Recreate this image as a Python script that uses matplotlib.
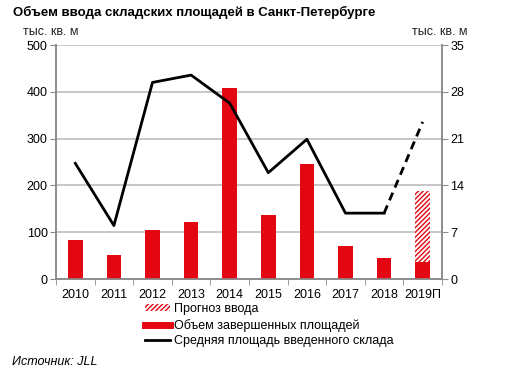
import matplotlib
matplotlib.use("Agg")
import matplotlib.pyplot as plt
from matplotlib.patches import Patch
from matplotlib.lines import Line2D
import numpy as np

plt.rcParams['font.family'] = ['Liberation Sans', 'DejaVu Sans']
plt.rcParams['hatch.linewidth'] = 1.0

years = ['2010', '2011', '2012', '2013', '2014', '2015', '2016', '2017', '2018', '2019П']
completed = [83, 51, 104, 121, 408, 137, 246, 71, 44, 37]
forecast = [0, 0, 0, 0, 0, 0, 0, 0, 0, 150]
avg_area = [17.3, 8.0, 29.4, 30.5, 26.3, 15.9, 20.9, 9.85, 9.85, 23.5]

left_ticks = [0, 100, 200, 300, 400, 500]
right_ticks = [0, 7, 14, 21, 28, 35]

RED = '#E30613'
GRID = '#BEBEBE'
SPINE = '#8C8C8C'

fig = plt.figure(figsize=(5.08, 3.76), dpi=100)
ax = fig.add_axes([56/508, 1-279/376, 386/508, 234/376])
ax2 = ax.twinx()

x = np.arange(len(years))
w = 0.38
ax.bar(x, completed, width=w, color=RED, zorder=3)
ax.bar(x, forecast, width=w, bottom=completed, color='white', edgecolor=RED,
       hatch='///////', linewidth=0, zorder=3)

ax.set_xlim(-0.5, len(years) - 0.5)
ax.set_ylim(0, 500)
ax.set_yticks(left_ticks)
ax.yaxis.grid(True, color=GRID, linewidth=1.2, zorder=0)
ax.set_axisbelow(True)
ax.set_xticks(x)
ax.set_xticklabels(years, fontsize=9)
ax.set_xticks(np.arange(-0.5, len(years), 1), minor=True)
ax.tick_params(axis='x', which='major', length=0, pad=7)
ax.tick_params(axis='x', which='minor', length=4, color=SPINE, direction='out')
ax.tick_params(axis='y', length=4, color=SPINE, labelsize=9, pad=2)

ax2.set_ylim(0, 35)
ax2.set_yticks(right_ticks)
ax2.tick_params(axis='y', length=4, color=SPINE, labelsize=9, pad=2)

n = len(years)
ax2.plot(x[:n-1], avg_area[:n-1], color='black', linewidth=2, zorder=4)
ax2.plot(x[n-2:], avg_area[n-2:], color='black', linewidth=2, linestyle=(0, (3, 2)), zorder=4)

for a in (ax, ax2):
    a.spines['top'].set_visible(False)
    for s in ('left', 'right', 'bottom'):
        a.spines[s].set_color(SPINE)
        a.spines[s].set_linewidth(1.2)

fig.text(13/508, 1-12/376, 'Объем ввода складских площадей в Санкт-Петербурге',
         fontsize=9.5, fontweight='bold', va='center', ha='left')
fig.text(23/508, 1-32/376, 'тыс. кв. м', fontsize=9, va='center', ha='left', color='#222222')
fig.text(467/508, 1-32/376, 'тыс. кв. м', fontsize=9, va='center', ha='right', color='#222222')
fig.text(12/508, 1-362/376, 'Источник: JLL', fontsize=9, style='italic', va='center', ha='left')

handles = [
    Patch(facecolor='white', edgecolor=RED, hatch='///////', linewidth=0),
    Line2D([0], [0], color=RED, linewidth=5),
    Line2D([0], [0], color='black', linewidth=2),
]
labels = ['Прогноз ввода', 'Объем завершенных площадей', 'Средняя площадь введенного склада']
fig.legend(handles, labels, loc='upper left', bbox_to_anchor=(145/508, 1-303/376),
           frameon=False, fontsize=9, handlelength=2.0, handleheight=0.5,
           handletextpad=0.3, labelspacing=0.3, borderpad=0, borderaxespad=0)

fig.savefig('out.png', dpi=100)
